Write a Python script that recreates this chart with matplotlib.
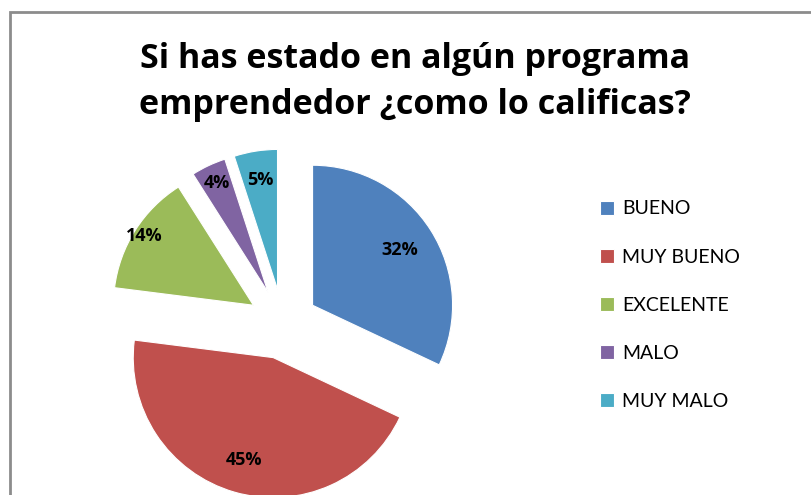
import numpy as np
import matplotlib.pyplot as plt
from matplotlib.patches import Rectangle

categories = ["BUENO", "MUY BUENO", "EXCELENTE", "MALO", "MUY MALO"]
values = [32, 45, 14, 4, 5]
colors = ["#4F81BD", "#C0504D", "#9BBB59", "#8064A2", "#4BACC6"]
title = "Si has estado en algún programa\nemprendedor ¿como lo calificas?"

W, H = 811, 495
fig = plt.figure(figsize=(W / 100, H / 100), dpi=100)
fig.patch.set_facecolor("white")

# one axes over the whole figure, data units = pixels (y up, negative)
ax = fig.add_axes([0, 0, 1, 1])

# chart frame
ax.add_patch(Rectangle((10, -H - 20), W + 20, H + 20 - 12, fill=False,
                       edgecolor="#8c8c8c", linewidth=2))

radius = 140
wedges, texts, autotexts = ax.pie(
    values,
    colors=colors,
    startangle=90,
    counterclock=False,
    radius=radius,
    center=(283, -324),
    explode=[35] * len(values),
    autopct="%1.0f%%",
    pctdistance=0.8,
    wedgeprops=dict(edgecolor="white", linewidth=0.8),
    textprops=dict(fontsize=13, fontweight="bold", family="Open Sans"),
    frame=True,
)
ax.set_xlim(0, W)
ax.set_ylim(-H, 0)
ax.axis("off")

# move labels like the Excel best-fit placement
label_r = [0.74, 0.76, 0.92, 0.86, 0.79]
for w, t, r in zip(wedges, autotexts, label_r):
    th = np.deg2rad((w.theta1 + w.theta2) / 2)
    cx, cy = w.center
    t.set_position((cx + r * radius * np.cos(th), cy + r * radius * np.sin(th)))

fig.text(415 / W, 1 - 82 / H, title, ha="center", va="center",
         fontsize=24.5, fontweight="bold", family="Open Sans", linespacing=1.5)

leg = ax.legend(wedges, categories, loc="upper left",
                bbox_to_anchor=(582 / W, 1 - 183 / H),
                frameon=False, prop=dict(family="Lato", size=14),
                handlelength=0.75, handleheight=0.75, handletextpad=0.4,
                labelspacing=1.6)

fig.savefig("out.png", dpi=100)
